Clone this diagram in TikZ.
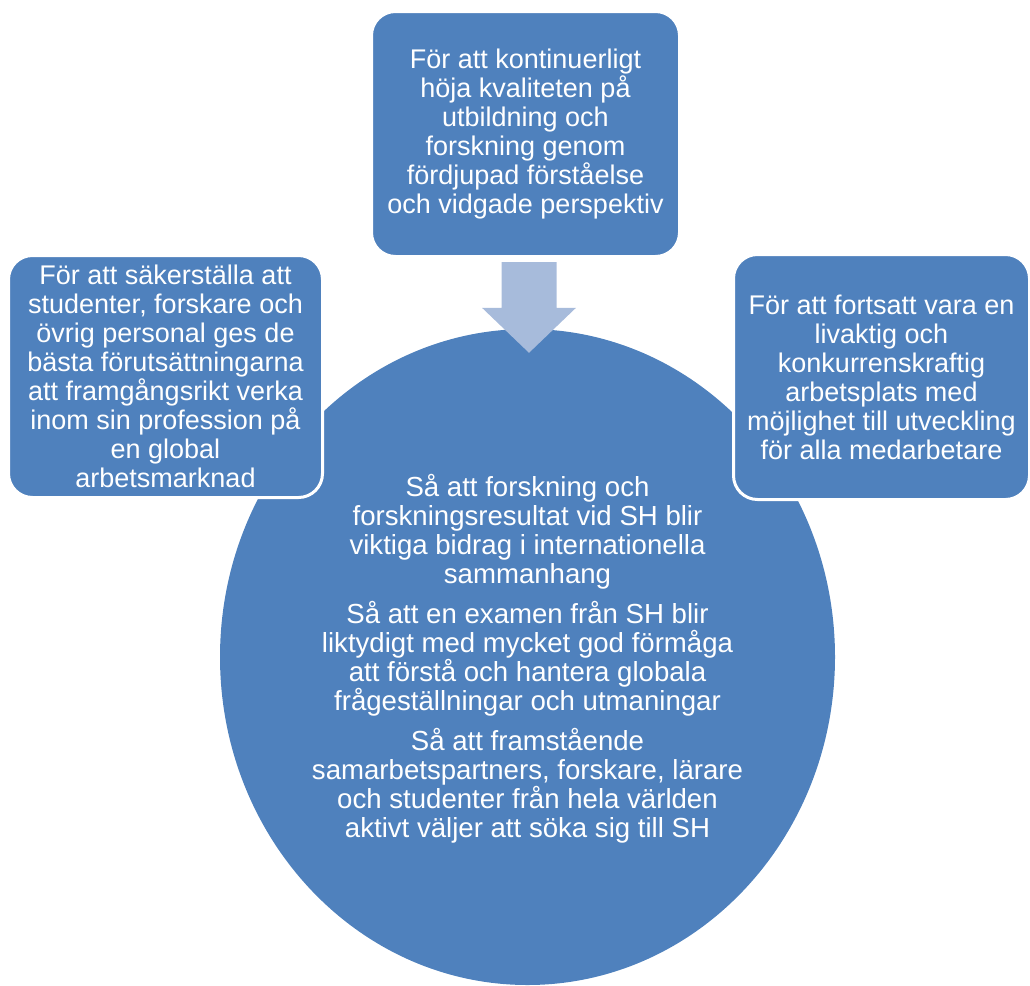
\documentclass[tikz,border=0pt]{standalone}
\usepackage{fontspec}
\setmainfont{Liberation Sans}
\usetikzlibrary{shapes.geometric,calc}
\definecolor{boxblue}{HTML}{4F81BD}
\definecolor{arrowblue}{HTML}{A7BBDB}
\begin{document}
\begin{tikzpicture}[x=1pt,y=-1pt,
  txt/.style={text=white,align=center,font=\fontsize{27}{29}\selectfont},
  bluebox/.style={txt,rectangle,rounded corners=24pt,fill=boxblue,draw=white,line width=3pt,inner sep=0pt},
  ]
\useasboundingbox (0,0) rectangle (1030,985);
% central ellipse
\node[ellipse,fill=boxblue,minimum width=615pt,minimum height=656pt,inner sep=0pt] (circ) at (527.5,657) {};
% top box
\node[bluebox,minimum width=308pt,minimum height=245pt] (top) at (525.5,134)
  {För att kontinuerligt\\höja kvaliteten på\\utbildning och\\forskning genom\\fördjupad förståelse\\och vidgade perspektiv};
% block arrow from top box to ellipse
\path (top.south) ++(0,4) coordinate (ashaft);
\path (circ.north) ++(1.5,24) coordinate (atip);
\coordinate (abase) at (atip |- ashaft);
\fill[arrowblue] ($(abase)+(-27.5,0)$) -- ($(abase)+(27.5,0)$) -- ($(atip)+(27.5,-45)$)
  -- ($(atip)+(47,-45)$) -- (atip) -- ($(atip)+(-47,-45)$) -- ($(atip)+(-27.5,-45)$) -- cycle;
% side boxes
\node[bluebox,minimum width=314pt,minimum height=242pt] (left) at (165.5,376.5)
  {För att säkerställa att\\studenter, forskare och\\övrig personal ges de\\bästa förutsättningarna\\att framgångsrikt verka\\inom sin profession på\\en global\\arbetsmarknad};
\node[bluebox,minimum width=296pt,minimum height=245pt] (right) at (881.5,377)
  {För att fortsatt vara en\\livaktig och\\konkurrenskraftig\\arbetsplats med\\möjlighet till utveckling\\för alla medarbetare};
% ellipse text
\node[txt,font=\fontsize{27.6}{29}\selectfont] (ctext) at ($(circ.center)+(0,2)$)
  {Så att forskning och\\forskningsresultat vid SH blir\\viktiga bidrag i internationella\\sammanhang\\[11pt]
   Så att en examen från SH blir\\liktydigt med mycket god förmåga\\att förstå och hantera globala\\frågeställningar och utmaningar\\[11pt]
   Så att framstående\\samarbetspartners, forskare, lärare\\och studenter från hela världen\\aktivt väljer att söka sig till SH};
\end{tikzpicture}
\end{document}
